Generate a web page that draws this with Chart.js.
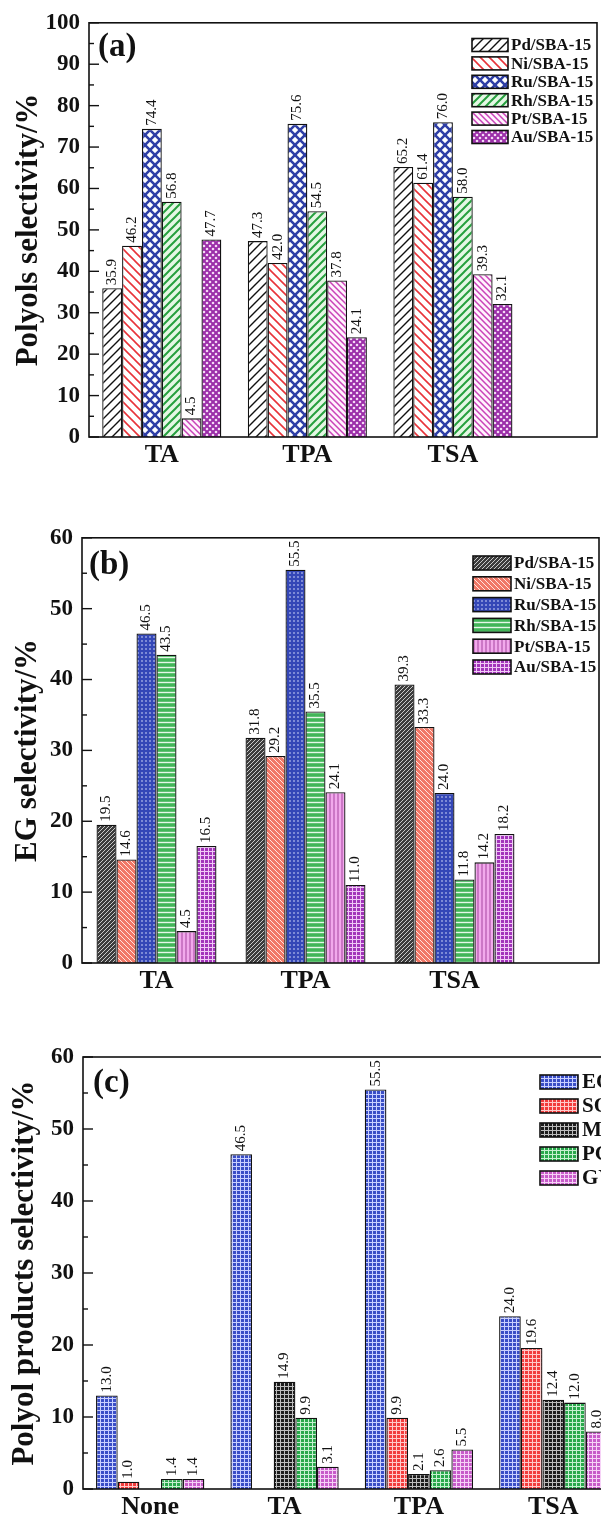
<!DOCTYPE html>
<html><head><meta charset="utf-8">
<script src="https://cdn.jsdelivr.net/npm/chart.js@4.4.0/dist/chart.umd.min.js"></script>
<style>
html,body{margin:0;padding:0;background:#fff;overflow:hidden;width:601px;height:1527px;}
.panel{position:absolute;left:0;}
</style></head><body>
<div class="panel" style="top:0;width:601px;height:500px"><canvas id="ca"></canvas></div>
<div class="panel" style="top:515px;width:601px;height:490px"><canvas id="cb"></canvas></div>
<div class="panel" style="top:1030px;width:700px;height:497px"><canvas id="cc"></canvas></div>
<script>
// ---------- data ----------
const catsAB = ['TA', 'TPA', 'TSA'];
const catsC = ['None', 'TA', 'TPA', 'TSA'];
const catalysts = ['Pd/SBA-15', 'Ni/SBA-15', 'Ru/SBA-15', 'Rh/SBA-15', 'Pt/SBA-15', 'Au/SBA-15'];
const products = ['EG', 'SO', 'MA', 'PG', 'GY'];

// (a) polyols selectivity
const polPd = [35.9, 47.3, 65.2];
const polNi = [46.2, 42.0, 61.4];
const polRu = [74.4, 75.6, 76.0];
const polRh = [56.8, 54.5, 58.0];
const polPt = [4.5, 37.8, 39.3];
const polAu = [47.7, 24.1, 32.1];

// (b) EG selectivity
const egPd = [19.5, 31.8, 39.3];
const egNi = [14.6, 29.2, 33.3];
const egRu = [46.5, 55.5, 24.0];
const egRh = [43.5, 35.5, 11.8];
const egPt = [4.5, 24.1, 14.2];
const egAu = [16.5, 11.0, 18.2];

// (c) polyol products selectivity (Ru/SBA-15)
const prodEG = [13.0, 46.5, 55.5, 24.0];
const prodSO = [1.0, null, 9.9, 19.6];
const prodMA = [null, 14.9, 2.1, 12.4];
const prodPG = [1.4, 9.9, 2.6, 12.0];
const prodGY = [1.4, 3.1, 5.5, 8.0];

const yTicksA = {min: 0, max: 100, step: 10};
const yTicksB = {min: 0, max: 60, step: 10};
const yTicksC = {min: 0, max: 60, step: 10};

// ---------- patterns ----------
const SERIF = '"Liberation Serif","Times New Roman",serif';
function tile(size, bg, draw) {
  const c = document.createElement('canvas');
  c.width = size; c.height = size;
  const g = c.getContext('2d');
  g.fillStyle = bg; g.fillRect(0, 0, size, size);
  draw(g, size);
  return g.createPattern(c, 'repeat');
}
function fwd(color, lw) { return (g, s) => { g.strokeStyle = color; g.lineWidth = lw; g.beginPath();
  g.moveTo(0, s); g.lineTo(s, 0); g.moveTo(-2, 2); g.lineTo(2, -2); g.moveTo(s - 2, s + 2); g.lineTo(s + 2, s - 2); g.stroke(); }; }
function back(color, lw) { return (g, s) => { g.strokeStyle = color; g.lineWidth = lw; g.beginPath();
  g.moveTo(0, 0); g.lineTo(s, s); g.moveTo(-2, s - 2); g.lineTo(2, s + 2); g.moveTo(s - 2, -2); g.lineTo(s + 2, 2); g.stroke(); }; }
function cross(color, lw) { return (g, s) => { fwd(color, lw)(g, s); back(color, lw)(g, s); }; }
function dots(color, r, diamond) { return (g, s) => { g.fillStyle = color;
  const pts = diamond ? [[0,0],[s,0],[0,s],[s,s],[s/2,s/2]] : [[s/2,s/2]];
  pts.forEach(p => { g.beginPath(); g.arc(p[0], p[1], r, 0, Math.PI * 2); g.fill(); }); }; }
function hlines(color, lw) { return (g, s) => { g.fillStyle = color; g.fillRect(0, s/2 - lw/2, s, lw); }; }
function vlines(color, lw) { return (g, s) => { g.fillStyle = color; g.fillRect(s/2 - lw/2, 0, lw, s); }; }
function grid(color, lw) { return (g, s) => { g.fillStyle = color; g.fillRect(0, 0, s, lw); g.fillRect(0, 0, lw, s); }; }

const patA = [
  tile(9, '#ffffff', fwd('#111111', 1.4)),
  tile(9, '#ffffff', back('#e8343a', 1.6)),
  tile(10, '#ffffff', cross('#2f3fa6', 2.6)),
  tile(8, '#e4f7e4', fwd('#26a03e', 2.0)),
  tile(6, '#fff3fd', back('#c943b8', 1.5)),
  tile(6, '#9b2ea9', dots('#f4d8f6', 1.3, true))
];
const patB = [
  tile(4, '#3c3c3c', fwd('#c9c9c9', 1.0)),
  tile(5, '#f07867', back('#ffe4df', 1.0)),
  tile(4, '#3447b7', dots('#dde3ff', 0.8, false)),
  tile(5, '#42b558', hlines('#e6f7e8', 1.4)),
  tile(4, '#f2a9ec', vlines('#a6469f', 1.0)),
  tile(4, '#a234ba', grid('#f0c8f6', 1.0))
];
const patC = [
  tile(4, '#3a4ec6', grid('#c9d0ff', 1.0)),
  tile(4, '#f23c3c', grid('#ffc9c9', 1.0)),
  tile(4, '#1c1c1c', grid('#bdbdbd', 1.0)),
  tile(4, '#29a84b', grid('#c6f0d0', 1.0)),
  tile(4, '#c75bc9', grid('#f6d2f7', 1.0))
];

// ---------- plugins ----------
const framePlugin = {
  id: 'frame',
  afterDatasetsDraw(chart) {
    const {ctx, chartArea: a, scales: {y}} = chart;
    ctx.save();
    ctx.strokeStyle = '#111'; ctx.lineWidth = 1.6;
    ctx.strokeRect(a.left, a.top, a.right - a.left, a.bottom - a.top);
    ctx.lineWidth = 1.4;
    for (let v = y.min; v <= y.max; v += 5) {
      const py = y.getPixelForValue(v);
      const len = (v % 10 === 0) ? 10 : 5;
      ctx.beginPath(); ctx.moveTo(a.left, py); ctx.lineTo(a.left + len, py); ctx.stroke();
    }
    ctx.restore();
  }
};
const valuePlugin = {
  id: 'vals',
  afterDatasetsDraw(chart, args, o) {
    const ctx = chart.ctx;
    ctx.save();
    ctx.fillStyle = '#111'; ctx.font = o.font;
    ctx.textAlign = 'left'; ctx.textBaseline = 'middle';
    chart.data.datasets.forEach((ds, i) => {
      const meta = chart.getDatasetMeta(i);
      meta.data.forEach((bar, j) => {
        const v = ds.data[j].y;
        if (v === null || v === undefined) return;
        ctx.save();
        ctx.translate(bar.x, bar.y - o.gap);
        ctx.rotate(-Math.PI / 2);
        ctx.fillText(v.toFixed(1), 0, 0);
        ctx.restore();
      });
    });
    ctx.restore();
  }
};
const boxLegend = {
  id: 'boxLegend',
  afterDraw(chart, args, o) {
    const ctx = chart.ctx;
    ctx.save();
    chart.data.datasets.forEach((ds, i) => {
      const yc = o.y + i * o.dy;
      ctx.fillStyle = ds.backgroundColor;
      ctx.fillRect(o.x, yc - o.h / 2, o.w, o.h);
      ctx.strokeStyle = '#111'; ctx.lineWidth = 1.6;
      ctx.strokeRect(o.x, yc - o.h / 2, o.w, o.h);
      ctx.fillStyle = '#111'; ctx.font = o.font;
      ctx.textAlign = 'left'; ctx.textBaseline = 'middle';
      ctx.fillText(ds.label, o.x + o.w + o.gap, yc + 1);
    });
    ctx.restore();
  }
};
const panelTag = {
  id: 'panelTag',
  afterDraw(chart, args, o) {
    const ctx = chart.ctx;
    ctx.save();
    ctx.fillStyle = '#111'; ctx.font = o.font;
    ctx.textAlign = 'left'; ctx.textBaseline = 'middle';
    ctx.fillText(o.text, o.x, o.y);
    ctx.restore();
  }
};

// ---------- chart factory ----------
function build(id, cfg) {
  const datasets = cfg.series.map((vals, i) => ({
    label: cfg.names[i],
    data: vals.map((v, j) => ({x: j, y: v})),
    backgroundColor: cfg.patterns[i],
    borderColor: '#111',
    borderWidth: 1.3,
    categoryPercentage: cfg.catPct,
    barPercentage: 1.0
  }));
  return new Chart(document.getElementById(id), {
    type: 'bar',
    data: {datasets},
    plugins: [framePlugin, valuePlugin, boxLegend, panelTag],
    options: {
      responsive: true, maintainAspectRatio: false, animation: false,
      layout: {autoPadding: false, padding: cfg.pad},
      plugins: {
        legend: {display: false}, tooltip: {enabled: false},
        vals: {font: '15px ' + SERIF, gap: 3},
        boxLegend: cfg.legend,
        panelTag: cfg.tag
      },
      scales: {
        x: {
          type: 'linear', min: -0.5, max: cfg.xMax, offset: false,
          grid: {display: false, drawTicks: false}, border: {display: false},
          afterBuildTicks: s => { s.ticks = cfg.cats.map((c, i) => ({value: i})); },
          afterFit: s => { s.height = cfg.xH; },
          ticks: {
            autoSkip: false, maxRotation: 0, padding: 3, color: '#111',
            font: {family: SERIF, size: 26, weight: 'bold'},
            callback: v => cfg.cats[v]
          }
        },
        y: {
          min: cfg.yt.min, max: cfg.yt.max,
          grid: {display: false, drawTicks: false}, border: {display: false},
          afterFit: s => { s.width = cfg.yW; },
          ticks: {stepSize: cfg.yt.step, padding: 9, color: '#111',
            font: {family: SERIF, size: 23, weight: 'bold'}},
          title: {display: true, text: cfg.yTitle, color: '#111',
            font: {family: SERIF, size: cfg.titleSize, weight: 'bold'}, padding: {top: cfg.titlePad, bottom: 0}}
        }
      }
    }
  });
}

build('ca', {
  cats: catsAB, names: catalysts, patterns: patA,
  series: [polPd, polNi, polRu, polRh, polPt, polAu],
  yt: yTicksA, yTitle: 'Polyols selectivity/%',
  pad: {top: 22, right: 4, left: 0, bottom: 0}, yW: 89, xH: 63, xMax: 2.99, catPct: 0.818,
  titleSize: 31, titlePad: 10,
  legend: {x: 472, y: 45, dy: 18.4, w: 36, h: 13, gap: 3, font: 'bold 17px ' + SERIF},
  tag: {text: '(a)', x: 98, y: 47, font: 'bold 33px ' + SERIF}
});
build('cb', {
  cats: catsAB, names: catalysts, patterns: patB,
  series: [egPd, egNi, egRu, egRh, egPt, egAu],
  yt: yTicksB, yTitle: 'EG selectivity/%',
  pad: {top: 22, right: 2, left: 0, bottom: 0}, yW: 82, xH: 42, xMax: 2.97, catPct: 0.805,
  titleSize: 31, titlePad: 9,
  legend: {x: 473, y: 48, dy: 20.8, w: 38, h: 14, gap: 3, font: 'bold 17px ' + SERIF},
  tag: {text: '(b)', x: 89, y: 50, font: 'bold 33px ' + SERIF}
});
build('cc', {
  cats: catsC, names: products, patterns: patC,
  series: [prodEG, prodSO, prodMA, prodPG, prodGY],
  yt: yTicksC, yTitle: 'Polyol products selectivity/%',
  pad: {top: 27, right: 50, left: 0, bottom: 0}, yW: 83, xH: 38, xMax: 3.72, catPct: 0.806,
  titleSize: 31, titlePad: 6,
  legend: {x: 540, y: 52, dy: 24, w: 38, h: 14, gap: 4, font: 'bold 21px ' + SERIF},
  tag: {text: '(c)', x: 93, y: 53, font: 'bold 33px ' + SERIF}
});
</script>
</body></html>
